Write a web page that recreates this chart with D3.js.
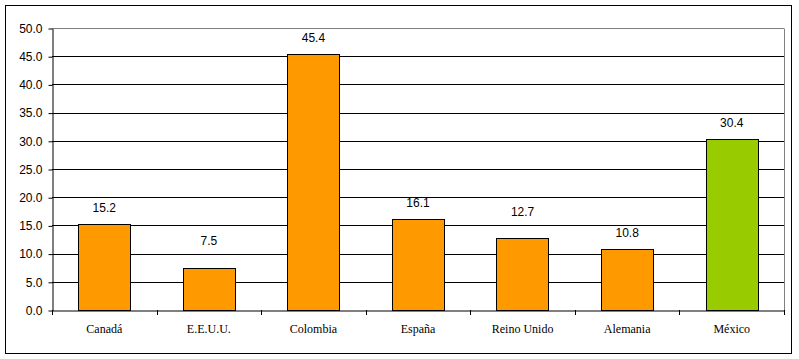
<!DOCTYPE html>
<html>
<head>
<meta charset="utf-8">
<script src="https://cdn.jsdelivr.net/npm/d3@7"></script>
<style>
  html, body { margin: 0; padding: 0; background: #fff; }
  svg { display: block; }
</style>
</head>
<body>
<svg></svg>
<script>
const countries = ["Canadá", "E.E.U.U.", "Colombia", "España", "Reino Unido", "Alemania", "México"];
const values = [15.2, 7.5, 45.4, 16.1, 12.7, 10.8, 30.4];
const yTicks = [0, 5, 10, 15, 20, 25, 30, 35, 40, 45, 50];

const width = 799;
const height = 359;
const plotLeft = 52, plotRight = 784, plotTop = 28, plotBottom = 310;

const svg = d3.select("svg")
  .attr("width", width)
  .attr("height", height);

// outer frame
svg.append("rect")
  .attr("x", 5.5).attr("y", 5.5)
  .attr("width", 786).attr("height", 348)
  .attr("fill", "#fff")
  .attr("stroke", "#000")
  .attr("stroke-width", 1);

const xScale = d3.scaleBand()
  .domain(countries)
  .range([plotLeft, plotRight])
  .paddingInner(0.5)
  .paddingOuter(0.25);

const yScale = d3.scaleLinear()
  .domain([0, 50])
  .range([plotBottom, plotTop]);

// gridlines
svg.append("g")
  .selectAll("line")
  .data(yTicks.filter(d => d > 0))
  .enter()
  .append("line")
    .attr("x1", plotLeft)
    .attr("x2", plotRight)
    .attr("y1", d => Math.round(yScale(d)) + 0.5)
    .attr("y2", d => Math.round(yScale(d)) + 0.5)
    .attr("stroke", d => d === 50 ? "#808080" : "#000");

// right border of plot
svg.append("line")
  .attr("x1", plotRight + 0.5).attr("x2", plotRight + 0.5)
  .attr("y1", plotTop + 0.5).attr("y2", plotBottom)
  .attr("stroke", "#808080");

// bars
svg.append("g")
  .selectAll("rect")
  .data(values)
  .enter()
  .append("rect")
    .attr("x", (d, i) => Math.round(xScale(countries[i])) + 0.5)
    .attr("y", d => Math.round(yScale(d)) + 0.5)
    .attr("width", Math.round(xScale.bandwidth()))
    .attr("height", d => Math.round(yScale(0)) - Math.round(yScale(d)))
    .attr("fill", (d, i) => countries[i] === "México" ? "#99CC00" : "#FF9900")
    .attr("stroke", "#000");

// value labels: sit above the bar, but hop over a gridline if they would cross it
const gridYs = yTicks.map(t => Math.round(yScale(t)));
function labelBaseline(v) {
  let base = Math.round(yScale(v)) - 12;
  const hit = gridYs.find(g => g >= base - 8 && g <= base + 2);
  if (hit !== undefined) base = hit - 9;
  return base;
}

svg.append("g")
  .selectAll("text")
  .data(values)
  .enter()
  .append("text")
    .attr("x", (d, i) => xScale(countries[i]) + xScale.bandwidth() / 2)
    .attr("y", d => labelBaseline(d))
    .attr("text-anchor", "middle")
    .style("font-family", "Liberation Sans, Arial, sans-serif")
    .style("font-size", "12px")
    .text(d => d.toFixed(1));

// y axis
const yAxis = d3.axisLeft(yScale)
  .tickValues(yTicks)
  .tickFormat(d3.format(".1f"))
  .tickSize(4)
  .tickSizeOuter(0);

const yG = svg.append("g")
  .attr("transform", `translate(${plotLeft + 0.5}, 0.5)`)
  .call(yAxis);
yG.selectAll("path, line").attr("stroke", "#000");
yG.selectAll("text")
  .attr("x", -10)
  .style("font-family", "Liberation Sans, Arial, sans-serif")
  .style("font-size", "12px")
  .attr("fill", "#000");

// x axis
const xAxis = d3.axisBottom(xScale)
  .tickSize(0)
  .tickSizeOuter(0);

const xG = svg.append("g")
  .attr("transform", `translate(0, ${plotBottom + 0.5})`)
  .call(xAxis);
xG.select("path").attr("stroke", "#000");
xG.selectAll("text")
  .attr("y", 14)
  .style("font-family", "Liberation Serif, Times New Roman, serif")
  .style("font-size", "12px")
  .attr("fill", "#000");

// category boundary ticks
svg.append("g")
  .selectAll("line")
  .data(d3.range(countries.length + 1))
  .enter()
  .append("line")
    .attr("x1", i => Math.round(plotLeft + i * (plotRight - plotLeft) / countries.length) + 0.5)
    .attr("x2", i => Math.round(plotLeft + i * (plotRight - plotLeft) / countries.length) + 0.5)
    .attr("y1", plotBottom)
    .attr("y2", plotBottom + 5)
    .attr("stroke", "#000");
</script>
</body>
</html>
